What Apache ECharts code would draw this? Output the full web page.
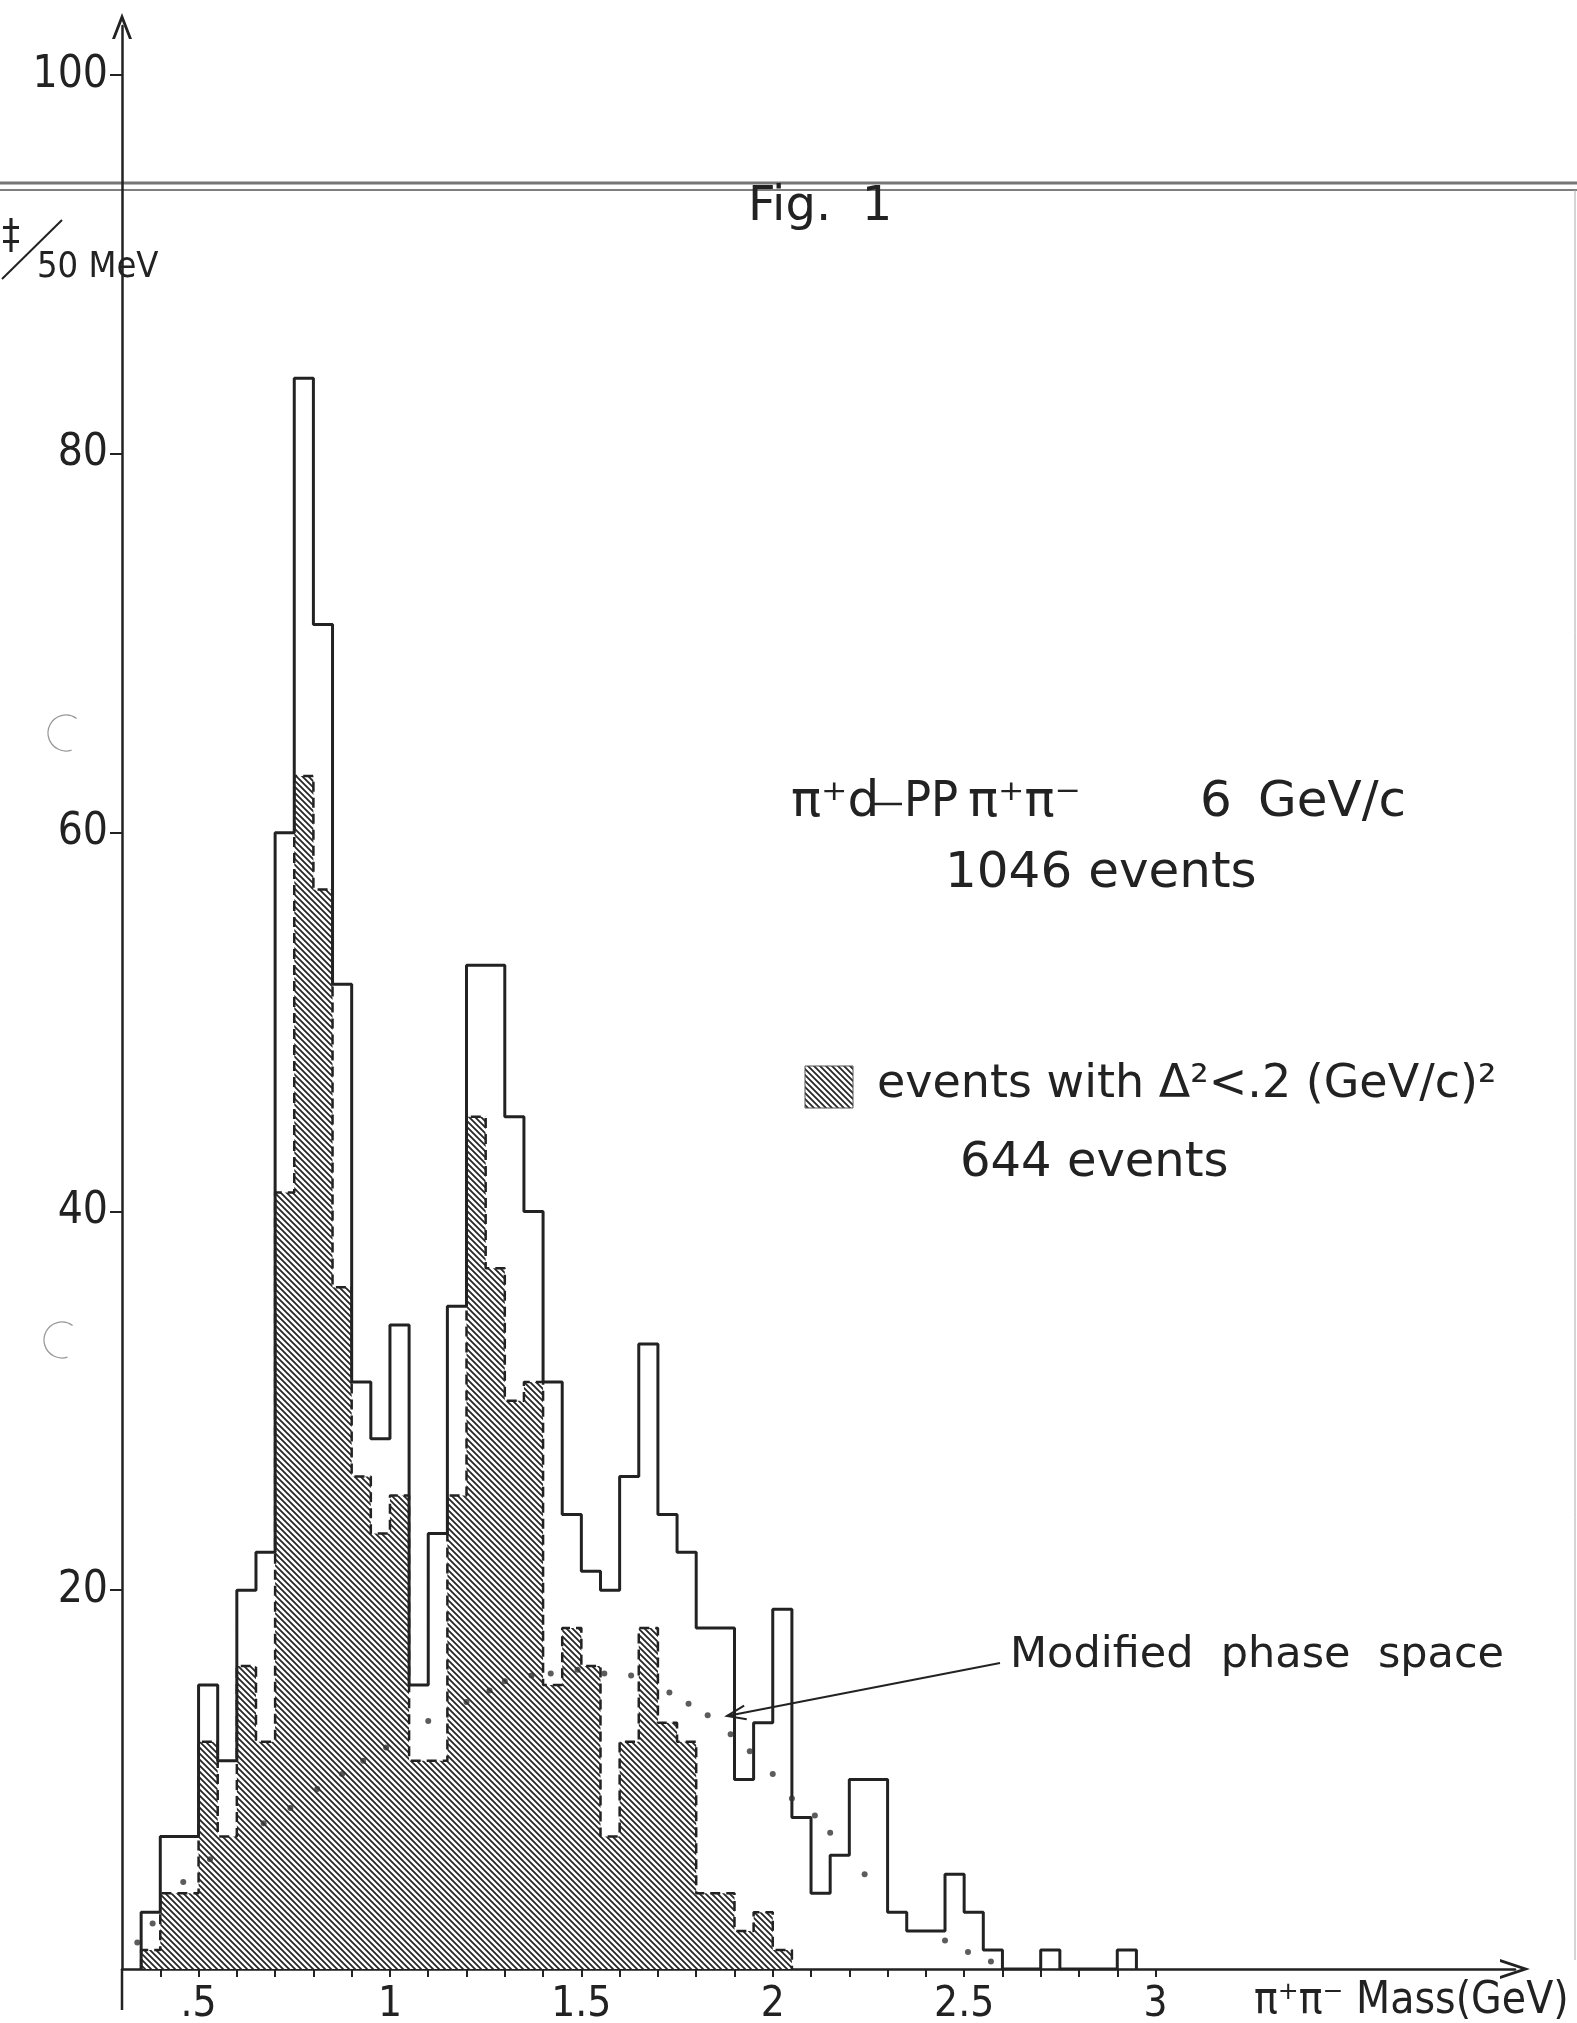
<!DOCTYPE html>
<html><head><meta charset="utf-8">
<script src="https://cdn.jsdelivr.net/npm/echarts@6/dist/echarts.min.js"></script>
<style>html,body{margin:0;padding:0;background:#fff}#c{width:1577px;height:2023px}</style>
</head><body><div id="c"></div>
<script>
// ---- data ----
const binLow = [0.35,0.40,0.45,0.50,0.55,0.60,0.65,0.70,0.75,0.80,0.85,0.90,0.95,1.00,1.05,1.10,1.15,1.20,1.25,1.30,
  1.35,1.40,1.45,1.50,1.55,1.60,1.65,1.70,1.75,1.80,1.85,1.90,1.95,2.00,2.05,2.10,2.15,2.20,2.25,2.30,
  2.35,2.40,2.45,2.50,2.55,2.60,2.65,2.70,2.75,2.80,2.85,2.90];
const binWidth = 0.05;
const allEvents = [3,7,7,15,11,20,22,60,84,71,52,31,28,34,15,23,35,53,53,45,
  40,31,24,21,20,26,33,24,22,18,18,10,13,19,8,4,6,10,10,3,
  2,2,5,3,1,0,0,1,0,0,0,1];
const smallDeltaEvents = [1,4,4,12,7,16,12,41,63,57,36,26,23,25,11,11,25,45,37,30,
  31,15,18,16,7,12,18,13,12,4,4,2,3,1,0,0,0,0,0,0,
  0,0,0,0,0,0,0,0,0,0,0,0];
const psMass  = [0.34,0.38,0.46,0.53,0.67,0.74,0.81,0.875,0.93,0.99,1.10,1.20,1.26,1.30,1.37,1.42,1.49,1.56,1.63,1.73,
  1.78,1.83,1.89,1.94,2.00,2.05,2.11,2.15,2.24,2.45,2.51,2.57];
const psCount = [1.4,2.4,4.6,5.8,7.7,8.5,9.5,10.3,11.0,11.7,13.1,14.1,14.7,15.2,15.5,15.6,15.8,15.6,15.5,14.6,
  14.0,13.4,12.4,11.5,10.3,9.0,8.1,7.2,5.0,1.5,0.9,0.4];
const xLabelValues = [0.5,1,1.5,2,2.5,3];
const xLabelTexts  = ['.5','1','1.5','2','2.5','3'];
const xTickValues  = [0.4,0.5,0.6,0.7,0.8,0.9,1.0,1.1,1.2,1.3,1.4,1.5,1.6,1.7,1.8,1.9,2.0,2.1,2.2,2.3,2.4,2.5,2.6,2.7,2.8,2.9,3.0];
const yTickValues  = [20,40,60,80,100];

// histogram outline points (step at bin edges)
function stepPointsUpTo(vals, n){
  const pts = [[binLow[0], 0]];
  for (let i = 0; i <= n; i++) pts.push([binLow[i], vals[i]]);
  pts.push([binLow[n] + binWidth, 0]);
  return pts;
}
let lastNZ = smallDeltaEvents.length - 1;
while (lastNZ > 0 && smallDeltaEvents[lastNZ] === 0) lastNZ--;
const psData = psMass.map((m, i) => [m, psCount[i]]);

function makeHatch(){
  const c = document.createElement('canvas'); c.width = 6; c.height = 6;
  const g = c.getContext('2d');
  g.fillStyle = '#fff'; g.fillRect(0,0,6,6);
  g.strokeStyle = '#262626'; g.lineWidth = 1.8;
  g.beginPath();
  g.moveTo(-1,-1); g.lineTo(7,7);
  g.moveTo(-1,5); g.lineTo(1,7);
  g.moveTo(5,-1); g.lineTo(7,1);
  g.stroke();
  return c;
}
const hatch = {image: makeHatch(), repeat: 'repeat'};

const NARROW = "'Liberation Sans Narrow','DejaVu Sans Condensed',sans-serif";
const SANS = "'DejaVu Sans',sans-serif";
const INK = '#222';

function txt(text, x, y, size, fam, align){
  return {type:'text', silent:true, style:{text:text, x:x, y:y, fill:INK,
    font: size + 'px ' + fam, textAlign: align || 'left', textVerticalAlign:'middle',
    align: align || 'left', verticalAlign:'middle'}};
}

// arrow annotation geometry
const tip = [727,1716], tail = [1000,1663];
const ang = Math.atan2(tail[1]-tip[1], tail[0]-tip[0]);
const hl = 20, ha = 0.35;
const head1 = [tip[0] + hl*Math.cos(ang+ha), tip[1] + hl*Math.sin(ang+ha)];
const head2 = [tip[0] + hl*Math.cos(ang-ha), tip[1] + hl*Math.sin(ang-ha)];

const option = {
  animation: false,
  backgroundColor: '#fff',
  grid: {left:122, right:62, top:26, bottom:54, containLabel:false, outerBoundsMode:'none'},
  xAxis: {
    type:'value', min:0.30, max:3.939,
    axisLine:{show:true, onZero:false, lineStyle:{color:INK, width:2.5},
      symbol:['none','path://M10,0 L20,30 L17,30 L10,9 L3,30 L0,30 Z'], symbolSize:[20,30]},
    axisTick:{show:true, length:8, inside:false, customValues:xTickValues, lineStyle:{color:INK, width:2}},
    axisLabel:{show:true, customValues:xLabelValues, margin:15, color:INK, fontSize:42, fontFamily:NARROW,
      formatter: v => { const i = xLabelValues.findIndex(t => Math.abs(t - v) < 1e-6); return i >= 0 ? xLabelTexts[i] : ''; }},
    splitLine:{show:false}
  },
  yAxis: {
    type:'value', min:0, max:102.6,
    axisLine:{show:true, lineStyle:{color:INK, width:2.5},
      symbol:['none','path://M10,0 L20,26 L17,26 L10,8 L3,26 L0,26 Z'], symbolSize:[20,26]},
    axisTick:{show:true, length:12, inside:false, customValues:yTickValues, lineStyle:{color:INK, width:2}},
    axisLabel:{show:true, customValues:yTickValues, margin:14, color:INK, fontSize:44, fontFamily:NARROW},
    splitLine:{show:false}
  },
  series: [
    {type:'line', name:'events with small Δ²', step:'end', showSymbol:false, z:2,
      data: stepPointsUpTo(smallDeltaEvents, lastNZ),
      lineStyle:{color:INK, width:2.5, type:[10,6]},
      areaStyle:{color:hatch, opacity:1, origin:0}},
    {type:'scatter', name:'Modified phase space', data: psData, symbol:'circle', symbolSize:6, z:4,
      itemStyle:{color:'#333'}},
    {type:'line', name:'all events', step:'end', showSymbol:false, z:3,
      data: stepPointsUpTo(allEvents, allEvents.length - 1),
      lineStyle:{color:INK, width:3}}
  ],
  graphic: [
    // page break double line
    {type:'line', silent:true, shape:{x1:0,y1:183,x2:1577,y2:183}, style:{stroke:'#777', lineWidth:3}},
    {type:'line', silent:true, shape:{x1:0,y1:190,x2:1577,y2:190}, style:{stroke:'#555', lineWidth:1.5}},
    // y axis continues a little below the x axis
    {type:'line', silent:true, shape:{x1:122,y1:1969,x2:122,y2:2010}, style:{stroke:INK, lineWidth:2.5}},
    // right page edge
    {type:'line', silent:true, shape:{x1:1575,y1:190,x2:1575,y2:1960}, style:{stroke:'#aaa', lineWidth:1}},
    // punch holes
    {type:'arc', silent:true, shape:{cx:66,cy:733,r:18,startAngle:Math.PI*0.4,endAngle:Math.PI*1.7,clockwise:true}, style:{stroke:'#999', lineWidth:1.3, fill:null}},
    {type:'arc', silent:true, shape:{cx:62,cy:1340,r:18,startAngle:Math.PI*0.4,endAngle:Math.PI*1.7,clockwise:true}, style:{stroke:'#999', lineWidth:1.3, fill:null}},
    // Fig. 1
    txt('Fig.  1', 748, 208, 48, SANS),
    // y-axis unit
    txt('‡', 2, 238, 40, NARROW),
    {type:'line', silent:true, shape:{x1:2,y1:279,x2:62,y2:220}, style:{stroke:INK, lineWidth:2}},
    txt('50 MeV', 37, 268, 36, NARROW),
    // x-axis name
    txt('π⁺π⁻ Mass(GeV)', 1254, 2002, 44, NARROW),
    // reaction label
    txt('π⁺d', 791, 803, 50, SANS),
    {type:'line', silent:true, shape:{x1:872,y1:804,x2:902,y2:804}, style:{stroke:INK, lineWidth:2.5}},
    txt('PP', 904, 803, 50, NARROW),
    txt('π⁺π⁻', 968, 803, 50, SANS),
    txt('6', 1200, 803, 50, SANS),
    txt('GeV/c', 1258, 803, 50, SANS),
    txt('1046 events', 945, 874, 50, SANS),
    // legend for hatched histogram
    {type:'rect', silent:true, shape:{x:805,y:1066,width:48,height:42}, style:{fill:hatch, stroke:'#555', lineWidth:1}},
    txt('events with Δ²<.2 (GeV/c)²', 877, 1085, 46, SANS),
    txt('644 events', 960, 1164, 48, SANS),
    // phase space annotation
    txt('Modified  phase  space', 1010, 1656, 43, SANS),
    {type:'line', silent:true, shape:{x1:tail[0],y1:tail[1],x2:tip[0],y2:tip[1]}, style:{stroke:INK, lineWidth:2}},
    {type:'polyline', silent:true, shape:{points:[head1, tip, head2]}, style:{stroke:INK, lineWidth:2, fill:null}}
  ]
};
const chart = echarts.init(document.getElementById('c'), null, {renderer:'canvas', width:1577, height:2023});
chart.setOption(option);
</script>
</body></html>
